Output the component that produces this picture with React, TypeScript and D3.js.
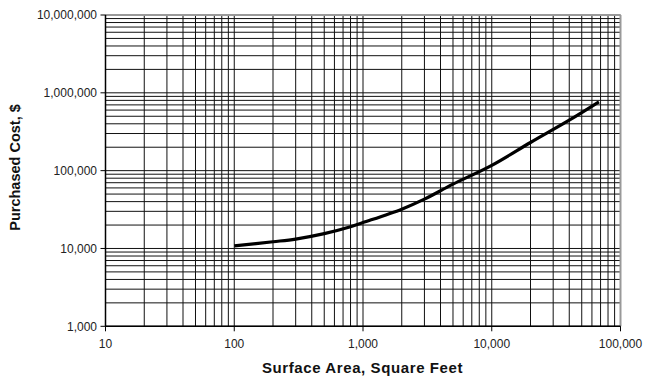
import React from "react";
import * as d3 from "d3";

const areas = [100, 200, 300, 500, 800, 1000, 2000, 3000, 5000, 10000, 20000, 40000, 68000];
const costs = [10800, 12200, 13200, 15500, 19000, 21500, 32000, 43000, 67000, 117000, 230000, 445000, 765000];

const xMajor = [10, 100, 1000, 10000, 100000];
const xLabels = ["10", "100", "1,000", "10,000", "100,000"];
const yMajor = [1000, 10000, 100000, 1000000, 10000000];
const yLabels = ["1,000", "10,000", "100,000", "1,000,000", "10,000,000"];

const W = 645;
const H = 378;
const L = 105.5;
const R = 620.5;
const T = 15;
const B = 326.3;

function minors(lo: number, hi: number): number[] {
  const out: number[] = [];
  for (let d = lo; d < hi; d *= 10) {
    for (let k = 2; k <= 9; k++) out.push(d * k);
  }
  return out;
}

export default function App() {
  const x = d3.scaleLog().domain([10, 100000]).range([L, R]);
  const y = d3.scaleLog().domain([1000, 10000000]).range([B, T]);
  const pts: [number, number][] = areas.map((a, i) => [x(a), y(costs[i])]);
  const line = d3.line().curve(d3.curveCatmullRom.alpha(0.5))(pts) || "";
  const xm = minors(10, 100000);
  const ym = minors(1000, 10000000);
  const font = "'Liberation Sans', Arial, sans-serif";
  return (
    <svg width={W} height={H} style={{ position: "absolute", left: 0, top: 0, background: "#fff" }}>
      <rect x={0} y={0} width={W} height={H} fill="#fff" />
      {xm.map((v) => (
        <line key={"xm" + v} x1={x(v)} x2={x(v)} y1={T} y2={B} stroke="#111" strokeWidth={1} />
      ))}
      {ym.map((v) => (
        <line key={"ym" + v} x1={L} x2={R} y1={y(v)} y2={y(v)} stroke="#111" strokeWidth={1} />
      ))}
      {xMajor.map((v) => (
        <line key={"xM" + v} x1={x(v)} x2={x(v)} y1={T} y2={B} stroke="#111" strokeWidth={1} />
      ))}
      {yMajor.map((v) => (
        <line key={"yM" + v} x1={L} x2={R} y1={y(v)} y2={y(v)} stroke="#111" strokeWidth={1} />
      ))}
      <line x1={L} x2={R} y1={T} y2={T} stroke="#999" strokeWidth={2} />
      <line x1={R} x2={R} y1={T} y2={B} stroke="#999" strokeWidth={2} />
      <line x1={L} x2={L} y1={T} y2={B} stroke="#000" strokeWidth={1.5} />
      <line x1={L} x2={R} y1={B} y2={B} stroke="#000" strokeWidth={1.5} />
      {yMajor.map((v) => (
        <line key={"yt" + v} x1={L - 5} x2={L} y1={y(v)} y2={y(v)} stroke="#000" strokeWidth={1} />
      ))}
      {xMajor.map((v) => (
        <line key={"xt" + v} x1={x(v)} x2={x(v)} y1={B} y2={B + 5} stroke="#000" strokeWidth={1} />
      ))}
      <path d={line} fill="none" stroke="#000" strokeWidth={3.2} strokeLinecap="butt" />
      {yMajor.map((v, i) => (
        <text key={"yl" + v} x={97} y={y(v) + 4.3} textAnchor="end" fontFamily={font} fontSize={12} fill="#222">
          {yLabels[i]}
        </text>
      ))}
      {xMajor.map((v, i) => (
        <text key={"xl" + v} x={x(v)} y={348.3} textAnchor="middle" fontFamily={font} fontSize={12} fill="#222">
          {xLabels[i]}
        </text>
      ))}
      <text x={362.5} y={373} textAnchor="middle" fontFamily={font} fontSize={15} fontWeight="bold" letterSpacing={0.6} fill="#111">
        Surface Area, Square Feet
      </text>
      <text
        transform="translate(19.5,167.5) rotate(-90)"
        textAnchor="middle"
        fontFamily={font}
        fontSize={14.5}
        fontWeight="bold"
        fill="#111"
      >
        Purchased Cost, $
      </text>
    </svg>
  );
}
